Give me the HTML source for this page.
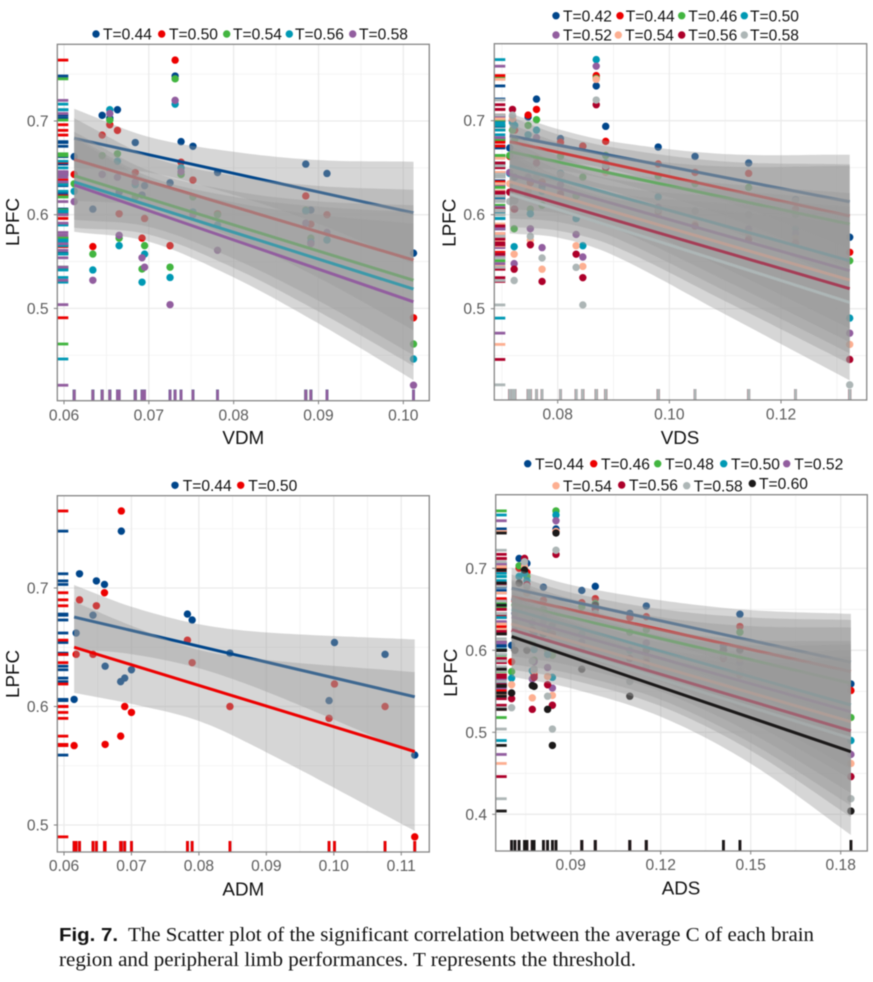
<!DOCTYPE html>
<html lang="en">
<head>
<meta charset="utf-8">
<title>Fig. 7 LPFC scatter plots</title>
<style>
html,body{margin:0;padding:0;background:#fff;width:873px;height:982px;overflow:hidden}
svg{display:block;position:absolute;left:0;top:0;filter:blur(.5px)}
text{font-family:"Liberation Sans",sans-serif}
.cap{font-family:"Liberation Serif",serif;font-size:19.5px;fill:#111}
</style>
</head>
<body>
<svg id="chart" width="873" height="982" viewBox="0 0 873 982" xmlns="http://www.w3.org/2000/svg">
  <g>
    <text x="59" y="941" font-size="18.5" font-weight="bold" fill="#111" textLength="59" lengthAdjust="spacingAndGlyphs">Fig. 7.</text>
    <text class="cap" x="128" y="941" textLength="686" lengthAdjust="spacingAndGlyphs">The Scatter plot of the significant correlation between the average C of each brain</text>
    <text class="cap" x="59" y="966" textLength="577" lengthAdjust="spacingAndGlyphs">region and peripheral limb performances. T represents the threshold.</text>
  </g>
</svg>
<script>
/* ---------- shared colours ---------- */
const blue = '#00468B', red = '#ED0000', green = '#42B540', teal = '#0099B4', purple = '#925E9F',
      salmon = '#FDAF91', crimson = '#AD002A', grey = '#ADB6B6', black = '#1B1919';

/* ---------- VDM panel data ---------- */
const vdmX = [.0612,.0634,.0645,.0654,.0663,.0665,.0684,.0692,.0695,.0725,.0731,.0738,.0752,.0781,.0885,.0891,.0910,.1012];
const vdmT44 = [.662,.606,.706,.703,.712,.624,.677,.621,.631,.634,.748,.678,.673,.645,.654,.605,.644,.559];
const vdmT50 = [.643,.566,.685,.696,.690,.601,.645,.575,.596,.567,.765,.656,.637,.601,.620,.590,.600,.490];
const vdmT54 = [.633,.558,.663,.701,.665,.575,.619,.542,.567,.544,.745,.643,.619,.600,.605,.575,.573,.462];
const vdmT56 = [.625,.541,.643,.712,.657,.567,.632,.528,.558,.533,.718,.650,.603,.589,.604,.571,.573,.446];
const vdmT58 = [.614,.530,.643,.708,.640,.578,.635,.554,.544,.504,.722,.646,.600,.562,.591,.569,.581,.418];
const vdmFitT44 = [.6815,.602], vdmFitT50 = [.659,.5516], vdmFitT54 = [.6416,.530], vdmFitT56 = [.635,.5206], vdmFitT58 = [.6317,.507];
const vdmBandX = [.0612,.07,.08,.09,.1012];
const vdmBandT44 = [.0315,.019,.023,.034,.0546];
const vdmBandT50 = [.044,.027,.033,.049,.075];
const vdmBandT54 = [.047,.03,.036,.053,.08];
const vdmBandT56 = [.049,.031,.038,.056,.082];
const vdmBandT58 = [.05,.033,.04,.058,.0835];
const vdmXTicks = ['0.06','0.07','0.08','0.09','0.10'];
const vdmYTicks = ['0.5','0.6','0.7'];

/* ---------- VDS panel data ---------- */
const vdsX = [.0714,.0719,.0722,.0723,.0747,.0751,.0762,.0772,.0805,.0833,.0845,.0869,.0886,.098,.1046,.1142,.1226,.1323];
const vdsT42 = [.671,.700,.616,.640,.704,.636,.723,.630,.681,.596,.673,.737,.694,.672,.662,.655,.616,.576];
const vdsT44 = [.662,.700,.606,.690,.706,.634,.712,.635,.677,.620,.673,.748,.678,.654,.645,.644,.606,.560];
const vdsT46 = [.663,.690,.585,.680,.695,.606,.701,.610,.662,.620,.640,.745,.663,.641,.633,.629,.600,.551];
const vdsT50 = [.644,.698,.566,.695,.685,.601,.690,.625,.644,.596,.567,.765,.655,.619,.604,.600,.585,.490];
const vdsT52 = [.645,.705,.548,.615,.640,.585,.682,.565,.632,.579,.555,.758,.650,.608,.588,.585,.580,.474];
const vdsT54 = [.633,.702,.558,.620,.625,.573,.660,.542,.625,.567,.545,.744,.645,.600,.590,.580,.575,.462];
const vdsT56 = [.624,.712,.542,.606,.620,.568,.655,.529,.622,.558,.533,.717,.650,.604,.588,.574,.570,.446];
const vdsT58 = [.614,.706,.530,.615,.620,.577,.640,.554,.643,.544,.504,.722,.652,.605,.604,.600,.615,.419];
const vdsFitT42 = [.684,.6138], vdsFitT44 = [.6777,.5986], vdsFitT46 = [.667,.590], vdsFitT50 = [.652,.551],
      vdsFitT52 = [.643,.5404], vdsFitT54 = [.635,.5305], vdsFitT56 = [.627,.5213], vdsFitT58 = [.622,.5067];
const vdsBandX = [.0714,.08,.09,.11,.1323];
const vdsBandT42 = [.024,.017,.015,.025,.05];
const vdsBandT44 = [.027,.019,.018,.029,.055];
const vdsBandT46 = [.03,.021,.019,.033,.062];
const vdsBandT50 = [.035,.025,.024,.045,.072];
const vdsBandT52 = [.037,.027,.026,.048,.076];
const vdsBandT54 = [.039,.028,.027,.05,.078];
const vdsBandT56 = [.04,.029,.028,.052,.08];
const vdsBandT58 = [.042,.03,.03,.055,.083];
const vdsXTicks = ['0.08','0.10','0.12'];
const vdsYTicks = ['0.5','0.6','0.7'];

/* ---------- ADM panel data ---------- */
const admX = [.0615,.0618,.0623,.0643,.0648,.0660,.0661,.0684,.0685,.0690,.0700,.0783,.0790,.0846,.0993,.1001,.1076,.1120];
const admT44 = [.606,.662,.712,.677,.706,.703,.634,.621,.748,.624,.631,.678,.673,.645,.605,.654,.644,.559];
const admT50 = [.567,.644,.690,.644,.685,.696,.568,.575,.765,.600,.595,.656,.637,.600,.590,.619,.600,.490];
const admFitT44 = [.6755,.6082], admFitT50 = [.650,.562];
const admBandX = [.0615,.07,.08,.09,.112];
const admBandT44 = [.027,.02,.0186,.025,.0484];
const admBandT50 = [.0385,.033,.03,.039,.067];
const admXTicks = ['0.06','0.07','0.08','0.09','0.10','0.11'];
const admYTicks = ['0.5','0.6','0.7'];

/* ---------- ADS panel data ---------- */
const adsX = [.0703,.0714,.0728,.0746,.0754,.0772,.0778,.0809,.0823,.0839,.0851,.0937,.0982,.1097,.1152,.1409,.1464,.1834];
const adsT44 = [.606,.662,.712,.703,.706,.634,.621,.677,.624,.631,.748,.673,.678,.645,.654,.605,.644,.559];
const adsT46 = [.586,.660,.700,.712,.695,.625,.570,.661,.610,.620,.745,.658,.663,.640,.641,.600,.629,.551];
const adsT48 = [.574,.655,.703,.702,.690,.610,.588,.650,.600,.594,.770,.653,.657,.622,.625,.600,.622,.518];
const adsT50 = [.566,.645,.690,.694,.685,.575,.601,.640,.595,.567,.765,.620,.655,.600,.600,.600,.585,.490];
const adsT52 = [.548,.645,.682,.705,.670,.565,.586,.635,.579,.554,.758,.610,.650,.590,.609,.600,.585,.473];
const adsT54 = [.558,.632,.650,.702,.670,.542,.575,.625,.568,.545,.745,.600,.645,.590,.590,.590,.590,.462];
const adsT56 = [.541,.623,.660,.712,.680,.528,.567,.620,.558,.533,.717,.600,.650,.590,.585,.590,.570,.446];
const adsT58 = [.530,.614,.660,.708,.678,.587,.577,.620,.544,.504,.722,.600,.645,.562,.580,.595,.575,.419];
const adsT60 = [.548,.600,.682,.698,.600,.557,.556,.620,.528,.484,.743,.577,.655,.544,.600,.600,.600,.404];
const adsFitT44 = [.6756,.5854], adsFitT46 = [.6654,.574], adsFitT48 = [.657,.5598], adsFitT50 = [.65,.5333], adsFitT52 = [.641,.525],
      adsFitT54 = [.632,.513], adsFitT56 = [.625,.5016], adsFitT58 = [.6215,.4927], adsFitT60 = [.6167,.4764];
const adsBandX = [.0703,.09,.12,.15,.1834];
const adsBandT44 = [.025,.02,.025,.037,.059];
const adsBandT46 = [.027,.021,.025,.039,.063];
const adsBandT48 = [.029,.023,.026,.041,.068];
const adsBandT50 = [.034,.027,.027,.045,.078];
const adsBandT52 = [.036,.028,.028,.047,.082];
const adsBandT54 = [.039,.03,.03,.049,.087];
const adsBandT56 = [.042,.032,.031,.051,.091];
const adsBandT58 = [.045,.035,.033,.053,.096];
const adsBandT60 = [.049,.0385,.036,.056,.1016];
const adsXTicks = ['0.09','0.12','0.15','0.18'];
const adsYTicks = ['0.4','0.5','0.6','0.7'];

/* ---------- panel configuration ---------- */
const panels = [
  { id:'vdm', title:'VDM', box:{l:57.3,r:429.3,t:44.3,b:400.7}, xCal:{v:.06,p:64,k:8483}, yCal:{v:.7,p:121,k:-937},
    x:vdmX, bandX:vdmBandX, xTicks:vdmXTicks, yTicks:vdmYTicks, yLabelX:48.5, yTitle:{x:19,y:222}, xTitle:{x:243.3,y:444}, tickY:420.5,
    series:[
      {label:'T=0.44',color:blue,y:vdmT44,fit:vdmFitT44,band:vdmBandT44,lg:[96,34,103]},
      {label:'T=0.50',color:red,y:vdmT50,fit:vdmFitT50,band:vdmBandT50,lg:[161.7,34,169]},
      {label:'T=0.54',color:green,y:vdmT54,fit:vdmFitT54,band:vdmBandT54,lg:[226.7,34,233]},
      {label:'T=0.56',color:teal,y:vdmT56,fit:vdmFitT56,band:vdmBandT56,lg:[289.3,34,295]},
      {label:'T=0.58',color:purple,y:vdmT58,fit:vdmFitT58,band:vdmBandT58,lg:[352.7,34,359]}
    ]},
  { id:'vds', title:'VDS', box:{l:494.3,r:866.7,t:43.7,b:400}, xCal:{v:.08,p:557.7,k:5583}, yCal:{v:.7,p:120.7,k:-940},
    x:vdsX, bandX:vdsBandX, xTicks:vdsXTicks, yTicks:vdsYTicks, yLabelX:485, yTitle:{x:455.7,y:222.7}, xTitle:{x:680,y:444}, tickY:419.5,
    series:[
      {label:'T=0.42',color:blue,y:vdsT42,fit:vdsFitT42,band:vdsBandT42,lg:[556,15.7,563]},
      {label:'T=0.44',color:red,y:vdsT44,fit:vdsFitT44,band:vdsBandT44,lg:[620,15.7,625.7]},
      {label:'T=0.46',color:green,y:vdsT46,fit:vdsFitT46,band:vdsBandT46,lg:[681.7,15.7,688.3]},
      {label:'T=0.50',color:teal,y:vdsT50,fit:vdsFitT50,band:vdsBandT50,lg:[744.3,15.7,750]},
      {label:'T=0.52',color:purple,y:vdsT52,fit:vdsFitT52,band:vdsBandT52,lg:[556,35,563]},
      {label:'T=0.54',color:salmon,y:vdsT54,fit:vdsFitT54,band:vdsBandT54,lg:[618.3,35,625]},
      {label:'T=0.56',color:crimson,y:vdsT56,fit:vdsFitT56,band:vdsBandT56,lg:[681.7,35,688.3]},
      {label:'T=0.58',color:grey,y:vdsT58,fit:vdsFitT58,band:vdsBandT58,lg:[744.3,35,750]}
    ]},
  { id:'adm', title:'ADM', box:{l:57.3,r:429.3,t:495.7,b:852}, xCal:{v:.06,p:64,k:6745}, yCal:{v:.7,p:588,k:-1185},
    x:admX, bandX:admBandX, xTicks:admXTicks, yTicks:admYTicks, yLabelX:48.5, yTitle:{x:19,y:674}, xTitle:{x:243.3,y:895.7}, tickY:871,
    series:[
      {label:'T=0.44',color:blue,y:admT44,fit:admFitT44,band:admBandT44,lg:[175,485.3,182.7]},
      {label:'T=0.50',color:red,y:admT50,fit:admFitT50,band:admBandT50,lg:[240.7,485.3,248.3]}
    ]},
  { id:'ads', title:'ADS', box:{l:495.7,r:867.3,t:494.7,b:851}, xCal:{v:.09,p:570.7,k:3000}, yCal:{v:.7,p:568.3,k:-820},
    x:adsX, bandX:adsBandX, xTicks:adsXTicks, yTicks:adsYTicks, yLabelX:487, yTitle:{x:457,y:672.7}, xTitle:{x:681,y:894.3}, tickY:870,
    series:[
      {label:'T=0.44',color:blue,y:adsT44,fit:adsFitT44,band:adsBandT44,lg:[527.7,463.7,535]},
      {label:'T=0.46',color:red,y:adsT46,fit:adsFitT46,band:adsBandT46,lg:[593.7,463.7,601]},
      {label:'T=0.48',color:green,y:adsT48,fit:adsFitT48,band:adsBandT48,lg:[657.7,463.7,665]},
      {label:'T=0.50',color:teal,y:adsT50,fit:adsFitT50,band:adsBandT50,lg:[723.7,463.7,731]},
      {label:'T=0.52',color:purple,y:adsT52,fit:adsFitT52,band:adsBandT52,lg:[786.7,463.7,794.3]},
      {label:'T=0.54',color:salmon,y:adsT54,fit:adsFitT54,band:adsBandT54,lg:[556,485.7,563]},
      {label:'T=0.56',color:crimson,y:adsT56,fit:adsFitT56,band:adsBandT56,lg:[621.7,485,629]},
      {label:'T=0.58',color:grey,y:adsT58,fit:adsFitT58,band:adsBandT58,lg:[686.7,485.7,693.7]},
      {label:'T=0.60',color:black,y:adsT60,fit:adsFitT60,band:adsBandT60,lg:[752.3,483.5,759]}
    ]}
];

/* ---------- drawing ---------- */
const NS = 'http://www.w3.org/2000/svg';
const root = document.getElementById('chart');

function shape(parent, tag, attrs, txt) {
  const node = document.createElementNS(NS, tag);
  for (const k in attrs) node.setAttribute(k, attrs[k]);
  if (txt !== undefined) node.textContent = txt;
  parent.appendChild(node);
  return node;
}

/* smooth half-width lookup through the read band values */
function bandAt(xs, hs, v) {
  const n = xs.length;
  let i = 0;
  while (i < n - 2 && v > xs[i + 1]) i++;
  const slope = j => j <= 0 ? (hs[1] - hs[0]) / (xs[1] - xs[0])
    : j >= n - 1 ? (hs[n - 1] - hs[n - 2]) / (xs[n - 1] - xs[n - 2])
    : (hs[j + 1] - hs[j - 1]) / (xs[j + 1] - xs[j - 1]);
  const h = xs[i + 1] - xs[i], t = (v - xs[i]) / h;
  const t2 = t * t, t3 = t2 * t;
  return (2 * t3 - 3 * t2 + 1) * hs[i] + (t3 - 2 * t2 + t) * h * slope(i) + (-2 * t3 + 3 * t2) * hs[i + 1] + (t3 - t2) * h * slope(i + 1);
}

panels.forEach(p => {
  const sx = v => p.xCal.p + (v - p.xCal.v) * p.xCal.k;
  const sy = v => p.yCal.p + (v - p.yCal.v) * p.yCal.k;
  const b = p.box;

  const g = shape(root, 'g', {});
  
  

  const gridG = shape(g, 'g', {});
  
  

  const xv = p.xTicks.map(Number), yv = p.yTicks.map(Number);
  const xStep = xv[1] - xv[0], yStep = yv[1] - yv[0];
  for (let i = -2; i < xv.length + 2; i++) {
    const minor = sx(xv[0] + (i + .5) * xStep);
    if (minor > b.l && minor < b.r) shape(gridG, 'line', {x1:minor, x2:minor, y1:b.t, y2:b.b, stroke:'#f1f1f1', 'stroke-width':.8});
  }
  for (let i = -2; i < yv.length + 2; i++) {
    const minor = sy(yv[0] + (i + .5) * yStep);
    if (minor > b.t && minor < b.b) shape(gridG, 'line', {x1:b.l, x2:b.r, y1:minor, y2:minor, stroke:'#f1f1f1', 'stroke-width':.8});
  }
  xv.forEach(v => shape(gridG, 'line', {x1:sx(v), x2:sx(v), y1:b.t, y2:b.b, stroke:'#ebebeb', 'stroke-width':1.3}));
  yv.forEach(v => shape(gridG, 'line', {x1:b.l, x2:b.r, y1:sy(v), y2:sy(v), stroke:'#ebebeb', 'stroke-width':1.3}));

  /* points */
  p.series.forEach(s => {
    const pg = shape(g, 'g', {fill:s.color});
    
    
    s.y.forEach((v, i) => {
      const dot = shape(pg, 'circle', {cx:sx(p.x[i]), cy:sy(v), r:3.7});
      
      
    });
  });

  /* rugs */
  p.series.forEach(s => {
    const rg = shape(g, 'g', {stroke:s.color, 'stroke-width':2.8});
    
    
    s.y.forEach((v, i) => {
      shape(rg, 'line', {x1:b.l, x2:b.l + 11, y1:sy(v), y2:sy(v)});
      shape(rg, 'line', {x1:sx(p.x[i]), x2:sx(p.x[i]), y1:b.b - 11, y2:b.b});
    });
  });

  /* ribbons and fit lines, one group at a time so later ribbons veil earlier lines */
  p.series.forEach(s => {
    const x0 = p.bandX[0], x1 = p.bandX[p.bandX.length - 1];
    const fitAt = v => s.fit[0] + (s.fit[1] - s.fit[0]) * (v - x0) / (x1 - x0);
    const up = [], down = [];
    for (let i = 0; i <= 60; i++) {
      const v = x0 + (x1 - x0) * i / 60;
      const hw = bandAt(p.bandX, s.band, v);
      up.push(sx(v).toFixed(1) + ',' + sy(fitAt(v) + hw).toFixed(1));
      down.unshift(sx(v).toFixed(1) + ',' + sy(fitAt(v) - hw).toFixed(1));
    }
    const ribbon = shape(g, 'polygon', {points:up.concat(down).join(' '), fill:'#999999', 'fill-opacity':.4});
    
    
    const fitLine = shape(g, 'line', {x1:sx(x0), y1:sy(s.fit[0]), x2:sx(x1), y2:sy(s.fit[1]), stroke:s.color, 'stroke-width':3});
    
    
  });

  /* border */
  const border = shape(g, 'rect', {x:b.l, y:b.t, width:b.r - b.l, height:b.b - b.t, fill:'none', stroke:'#858585', 'stroke-width':1.3});
  
  

  /* axes */
  const xAxis = shape(g, 'g', {});
  
  
  p.xTicks.forEach(t => {
    const v = Number(t);
    shape(xAxis, 'line', {x1:sx(v), x2:sx(v), y1:b.b, y2:b.b + 3.5, stroke:'#7f7f7f', 'stroke-width':1});
    const lab = shape(xAxis, 'text', {x:sx(v), y:p.tickY, 'text-anchor':'middle', 'font-size':15.6, fill:'#5c5c5c'}, t);
    
    
  });
  const yAxis = shape(g, 'g', {});
  
  
  p.yTicks.forEach(t => {
    const v = Number(t);
    shape(yAxis, 'line', {x1:b.l - 3.5, x2:b.l, y1:sy(v), y2:sy(v), stroke:'#7f7f7f', 'stroke-width':1});
    const lab = shape(yAxis, 'text', {x:p.yLabelX, y:sy(v) + 5.5, 'text-anchor':'end', 'font-size':15.6, fill:'#5c5c5c'}, t);
    
    
  });
  const xt = shape(g, 'text', {x:p.xTitle.x, y:p.xTitle.y, 'text-anchor':'middle', 'font-size':18.8, fill:'#111'}, p.title);
  
  
  const yt = shape(g, 'text', {x:p.yTitle.x, y:p.yTitle.y, 'text-anchor':'middle', 'font-size':18.8, fill:'#111', transform:'rotate(-90 ' + p.yTitle.x + ' ' + p.yTitle.y + ')'}, 'LPFC');
  
  

  /* legend */
  const lg = shape(g, 'g', {});
  
  
  p.series.forEach(s => {
    const entry = shape(lg, 'g', {});
    
    
    shape(entry, 'circle', {cx:s.lg[0], cy:s.lg[1], r:3.7, fill:s.color});
    shape(entry, 'text', {x:s.lg[2], y:s.lg[1] + 5.6, 'font-size':15.6, fill:'#111'}, s.label);
  });
});
</script>
</body>
</html>
